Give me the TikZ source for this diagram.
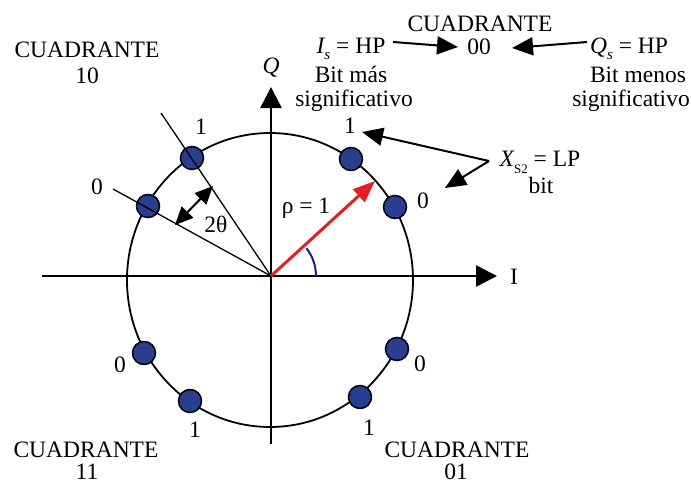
\documentclass[tikz,border=0pt]{standalone}
\usepackage{fontspec}
\setmainfont{Liberation Serif}
\usetikzlibrary{arrows.meta}
\definecolor{dotblue}{RGB}{40,62,145}
\definecolor{arcblue}{RGB}{30,30,130}
\definecolor{vecred}{RGB}{228,30,36}
\newcommand{\subit}[1]{\raisebox{-0.28em}{\fontsize{15}{15}\selectfont\itshape #1}}
\newcommand{\subrm}[1]{\raisebox{-0.3em}{\fontsize{13}{13}\selectfont #1}}
\begin{document}
\begin{tikzpicture}[x=1pt,y=-1pt,
  txt/.style={font=\fontsize{23.5}{26}\selectfont, inner sep=0pt, anchor=base},
  lbl/.style={font=\fontsize{23.5}{26}\selectfont, inner sep=0pt},
  axisline/.style={line width=2.6pt, -{Triangle[length=21pt,width=21pt]}},
  pointer/.style={line width=2pt, -{Triangle[length=21pt,width=18pt]}},
  ray/.style={line width=1.3pt},
  dot/.style={circle, draw, line width=1.5pt, fill=dotblue, minimum size=23pt, inner sep=0pt},
  vec/.style={line width=3pt, vecred, -{Triangle[length=22pt,width=17pt]}},
  twoarrow/.style={line width=2pt, {Triangle[length=18pt,width=16pt]}-{Triangle[length=18pt,width=16pt]}}
]
\useasboundingbox (0,0) rectangle (691,485);

% coordinates
\coordinate (O) at (271,276);
\coordinate (Ileft) at (42,276);
\coordinate (Iright) at (497,276);
\coordinate (Qbot) at (271,444);
\coordinate (Qtop) at (271,87);
\coordinate (L1) at (161,113);
\coordinate (L2) at (113,189);

% circle
\draw[line width=1.8pt] (270,280) ellipse [x radius=143, y radius=147];

% dots
\node[dot] (d1) at (192,158) {};
\node[dot] (d2) at (148,206) {};
\node[dot] (d3) at (144,353) {};
\node[dot] (d4) at (190,401) {};
\node[dot] (d5) at (397,349) {};
\node[dot] (d6) at (360,397) {};
\node[dot] (d7) at (351,159) {};
\node[dot] (d8) at (395,207) {};

% rays in quadrant 10
\draw[ray] (O) -- (L1);
\draw[ray] (O) -- (L2);

% axes
\draw[axisline] (Ileft) -- (Iright);
\draw[axisline] (Qbot) -- (Qtop);

% vector and angle arc
\coordinate (V) at (375,181);
\draw[vec] (O) -- (V);
\draw[arcblue, line width=2pt] (316,276) arc[start angle=0, end angle=-38, radius=45];

% 2 theta arrow
\coordinate (ta) at (175,225);
\coordinate (tb) at (213,186);
\draw[twoarrow] (ta) -- (tb);

% axis labels
\node[txt] (Qlab) at (271,73) {\itshape Q};
\node[lbl] (Ilab) at (514,277) {I};
\node[txt] (rho) at (306,213) {ρ = 1};
\node[txt] (theta) at (216,232) {2θ};

% bit labels
\node[lbl] (b1) at (201,127) {1};
\node[lbl] (b2) at (97,187) {0};
\node[lbl] (b3) at (120,365) {0};
\node[lbl] (b4) at (195,430) {1};
\node[lbl] (b5) at (420,364) {0};
\node[lbl] (b6) at (369,428) {1};
\node[lbl] (b7) at (350,126) {1};
\node[lbl] (b8) at (423,201) {0};

% Xs2 label and pointers
\node[txt] (xs) at (540,166) {{\itshape X}\subrm{S2} = LP};
\node[txt] (xsb) at (541,193) {bit};
\coordinate (xsp) at (489,161);
\coordinate (xt1) at (362,132);
\coordinate (xt2) at (445,188);
\draw[pointer] (xsp) -- (xt1);
\draw[pointer] (xsp) -- (xt2);

% quadrant labels
\node[txt] (q10a) at (87,57) {CUADRANTE};
\node[txt] (q10b) at (87,83) {10};
\node[txt] (q00a) at (480,31) {CUADRANTE};
\node[txt] (q00b) at (479,54) {00};
\node[txt] (q11a) at (86,457) {CUADRANTE};
\node[txt] (q11b) at (87,479) {11};
\node[txt] (q01a) at (457,457) {CUADRANTE};
\node[txt] (q01b) at (456,479) {01};

% Is / Qs labels
\node[txt] (is) at (351,53) {{\itshape I}\subit{s} = HP};
\node[txt] (is2) at (351,82) {Bit más};
\node[txt] (is3) at (354,106) {significativo};
\node[txt] (qs) at (629,53) {{\itshape Q}\subit{s} = HP};
\node[txt] (qs2) at (638,82) {Bit menos};
\node[txt] (qs3) at (631,106) {significativo};

\coordinate (ia) at (393,42);
\coordinate (ib) at (458,47);
\coordinate (qa) at (587,42);
\coordinate (qb) at (512,48);
\draw[pointer] (ia) -- (ib);
\draw[pointer] (qa) -- (qb);
\end{tikzpicture}
\end{document}
